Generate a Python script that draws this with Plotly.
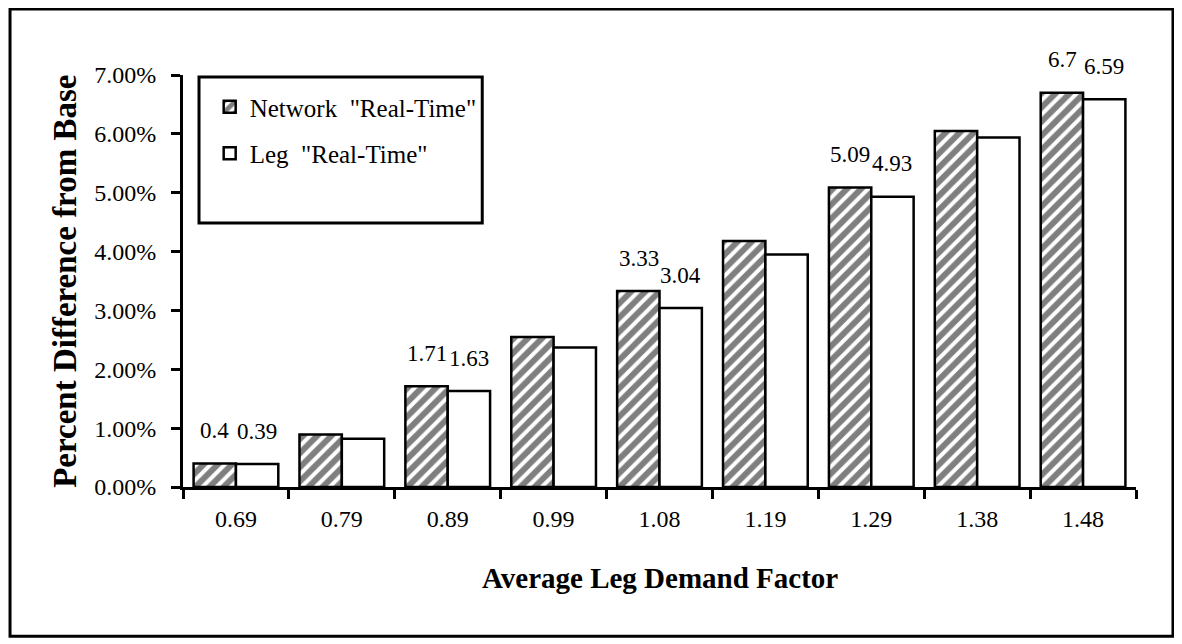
import plotly.graph_objects as go

categories = ["0.69", "0.79", "0.89", "0.99", "1.08", "1.19", "1.29", "1.38", "1.48"]
network = [0.40, 0.89, 1.71, 2.55, 3.33, 4.18, 5.09, 6.05, 6.70]
leg = [0.39, 0.82, 1.63, 2.37, 3.04, 3.95, 4.93, 5.94, 6.59]
network_labels = ["0.4", None, "1.71", None, "3.33", None, "5.09", None, "6.7"]
leg_labels = ["0.39", None, "1.63", None, "3.04", None, "4.93", None, "6.59"]
y_ticks = [0, 1, 2, 3, 4, 5, 6, 7]

SERIF = "Liberation Serif, Times New Roman, serif"

fig = go.Figure()
fig.add_trace(go.Bar(
    x=categories, y=network, name='Network  "Real-Time"', legendgroup="a",
    marker=dict(color="white", line=dict(color="black", width=2.5),
                pattern=dict(shape="/", fgcolor="black", bgcolor="white", size=10, solidity=0.6)),
))
fig.add_trace(go.Bar(
    x=categories, y=leg, name='Leg  "Real-Time"', legendgroup="b",
    marker=dict(color="white", line=dict(color="black", width=2.5)),
))

annotations = []
for i, (val, lab) in enumerate(zip(network, network_labels)):
    if lab:
        annotations.append(dict(x=i, y=val, xref="x", yref="y", text=lab, showarrow=False,
                                xshift=-21, yshift=33,
                                font=dict(family=SERIF, size=23, color="black")))
for i, (val, lab) in enumerate(zip(leg, leg_labels)):
    if lab:
        annotations.append(dict(x=i, y=val, xref="x", yref="y", text=lab, showarrow=False,
                                xshift=21, yshift=33,
                                font=dict(family=SERIF, size=23, color="black")))

annotations.append(dict(xref="paper", yref="paper", x=-0.124, y=0.5, text="<b>Percent Difference from Base</b>",
                        textangle=-90, showarrow=False, xanchor="center", yanchor="middle",
                        font=dict(family=SERIF, size=33, color="black")))
annotations.append(dict(xref="paper", yref="paper", x=0.5, y=-0.221, text="<b>Average Leg Demand Factor</b>",
                        showarrow=False, xanchor="center", yanchor="middle",
                        font=dict(family=SERIF, size=29, color="black")))

shapes = [
    # outer frame
    dict(type="rect", xref="paper", yref="paper", x0=-0.1815, x1=1.0388, y0=-0.362, y1=1.160,
         line=dict(color="black", width=3), fillcolor="rgba(0,0,0,0)", layer="below"),
    # legend box
    dict(type="rect", xref="paper", yref="paper", x0=0.0168, x1=0.314, y0=0.641, y1=0.995,
         line=dict(color="black", width=3), fillcolor="white", layer="below"),
]

# the page body adds an 8px margin, so the figure is sized/offset to keep the plot area in place
fig.update_layout(
    width=1174, height=636, autosize=False,
    margin=dict(l=175, r=46, t=67, b=157),
    paper_bgcolor="white", plot_bgcolor="rgba(0,0,0,0)",
    barmode="group", bargap=0.2, bargroupgap=0,
    font=dict(family=SERIF, color="black", size=24),
    showlegend=True,
    legend=dict(x=0.028, y=0.978, xanchor="left", yanchor="top", bgcolor="rgba(0,0,0,0)",
                borderwidth=0, font=dict(family=SERIF, size=25, color="black"),
                tracegroupgap=11, traceorder="grouped"),
    annotations=annotations,
    shapes=shapes,
    xaxis=dict(type="category", showline=True, linecolor="black", linewidth=3, showgrid=False,
               ticks="outside", tickson="boundaries", ticklen=9, tickwidth=3, tickcolor="black",
               ticklabelstandoff=8, tickfont=dict(family=SERIF, size=24, color="black"), zeroline=False),
    yaxis=dict(range=[0, 7], showline=True, linecolor="black", linewidth=3, showgrid=False, zeroline=False,
               tickmode="array", tickvals=y_ticks, ticktext=[f"{v:.2f}%" for v in y_ticks],
               ticks="outside", ticklen=9, tickwidth=3, tickcolor="black", ticklabelstandoff=10,
               tickfont=dict(family=SERIF, size=24, color="black")),
)

fig.write_html("out.html")
